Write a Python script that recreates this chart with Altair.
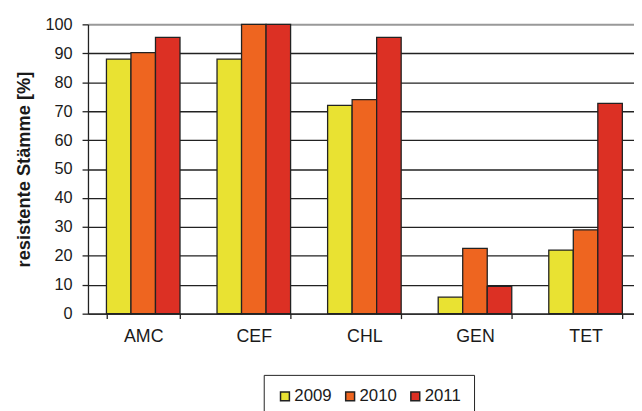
import altair as alt
import pandas as pd

categories = ["AMC", "CEF", "CHL", "GEN", "TET"]
years = ["2009", "2010", "2011"]
v2009 = [88.0, 88.0, 72.0, 5.7, 22.0]
v2010 = [90.2, 100.0, 74.0, 22.6, 29.0]
v2011 = [95.5, 100.0, 95.5, 9.4, 72.7]
colors = ["#E9E232", "#EE6520", "#DC3024"]
y_ticks = [0, 10, 20, 30, 40, 50, 60, 70, 80, 90, 100]

rows = []
for yr, vals in zip(years, [v2009, v2010, v2011]):
    for c, v in zip(categories, vals):
        rows.append({"cat": c, "year": yr, "val": v})
df = pd.DataFrame(rows)

FONT = "Liberation Sans"
DARK = "#222222"

chart = alt.Chart(df).mark_bar(stroke=DARK, strokeWidth=1.3).encode(
    x=alt.X(
        "cat:N", sort=categories, title=None,
        scale=alt.Scale(paddingInner=0.3348, paddingOuter=0.1362, align=0.613),
        axis=alt.Axis(labelAngle=0, tickBand="extent", tickSize=5, tickColor=DARK,
                      tickWidth=1.3, domainColor=DARK, domainWidth=1.3, labelFont=FONT,
                      labelFontSize=18, labelColor="#1a1a1a", labelPadding=9, grid=False),
    ),
    xOffset=alt.XOffset("year:N", sort=years,
                        scale=alt.Scale(paddingInner=0, paddingOuter=0)),
    y=alt.Y(
        "val:Q", title="resistente Stämme [%]",
        scale=alt.Scale(domain=[0, 100], nice=False),
        axis=alt.Axis(
            values=y_ticks, grid=True,
            gridColor={"condition": {"test": "datum.value === 100", "value": "#999999"}, "value": DARK},
            gridWidth={"condition": {"test": "datum.value === 100", "value": 2}, "value": 1.3},
            tickSize=6, tickColor=DARK, tickWidth=1.3, domainColor=DARK, domainWidth=1.3,
            labelFont=FONT, labelFontSize=16.5, labelColor="#1a1a1a", labelPadding=10,
            titleFont=FONT, titleFontSize=18.5, titleFontWeight="bold", titleColor="#1a1a1a",
            titlePadding=12,
        ),
    ),
    color=alt.Color(
        "year:N", sort=years, scale=alt.Scale(domain=years, range=colors),
        legend=alt.Legend(
            orient="none", legendX=178, legendY=355, direction="horizontal", title=None,
            strokeColor=DARK, padding=13, symbolType="square", symbolSize=81,
            symbolStrokeColor=DARK, symbolStrokeWidth=1.5, labelFont=FONT,
            labelFontSize=17, labelColor="#1a1a1a", columnPadding=10, labelOffset=1,
        ),
    ),
).properties(
    width=553, height=293,
    autosize=alt.AutoSizeParams(type="none"),
    padding={"left": 81, "top": 14, "right": 0, "bottom": 96},
).configure_view(stroke=None)

chart.save("out.html", embed_options={"renderer": "svg", "actions": False})
